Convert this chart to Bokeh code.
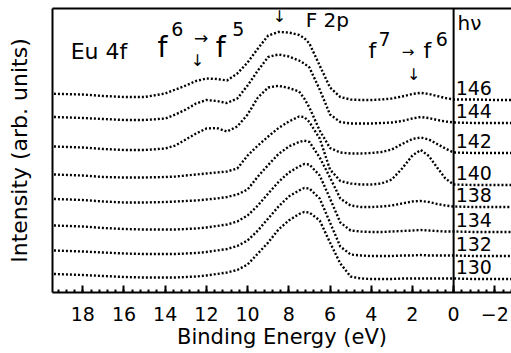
from bokeh.plotting import figure
from bokeh.models import Range1d, FixedTicker, LinearAxis, Span, Label
from bokeh.embed import file_html
from bokeh.resources import INLINE

# Binding energy grid (eV)
energy = [19.4, 18, 17, 16, 15, 14, 13.5, 13, 12.5, 12, 11.5, 11, 10.5, 10, 9.5, 9,
          8.5, 8, 7.5, 7.25, 7, 6.5, 6, 5.5, 5, 4.5, 4, 3.5, 3, 2.5, 2, 1.6, 1.2,
          0.8, 0.4, 0, -1, -2, -2.9]

# Intensity (arb. units, offset spectra) for each photon energy
i146 = [198.7, 198, 196.5, 195.5, 195.5, 199, 203, 207, 211.5, 214, 213.5, 212, 219, 230, 244, 257,
        260.5, 260, 257.5, 254.5, 249, 227, 205, 195.5, 193, 192.5, 192.5, 193, 194, 196, 198.5, 199.7, 198.5,
        196.5, 194.5, 193, 193, 192.5, 192.5]
i144 = [175.5, 174.5, 173.5, 172.5, 172.5, 174, 178, 183, 189, 192.5, 191.5, 189.5, 194, 207, 222, 235.5,
        238, 236, 232, 229, 225, 203, 178, 170.5, 169, 169, 169, 169.5, 170, 171.5, 174, 175.5, 174.5,
        172.5, 171, 170, 169.5, 169.5, 169.5]
i142 = [146, 145, 143.5, 142.5, 142.5, 144, 147, 153, 159, 164, 164.5, 161, 166, 178, 195, 205,
        206.7, 204.5, 201, 194, 185, 162, 144.5, 140, 139, 139, 139.5, 140.5, 143, 148.5, 153.5, 155, 153,
        148.5, 144, 140, 139.5, 139.5, 139.5]
i140 = [118, 117, 115.5, 115, 115, 115.5, 116, 117, 118, 119, 120, 121, 124, 137, 147, 156,
        164.5, 171, 176, 175.5, 170.5, 154, 123, 111.5, 109, 108, 108, 109, 113, 124, 137, 142.5, 136.5,
        125, 114, 108, 107.5, 107.5, 107.5]
i138 = [93.5, 92.5, 91, 90, 90, 90.5, 91, 91.5, 92, 93, 94, 95.5, 98, 103, 116, 127.5,
        138.5, 146, 150.5, 152, 150.5, 135, 115, 94, 87, 85.5, 85.5, 86, 87, 89, 91, 91.5, 90.5,
        88.5, 87, 86, 85.5, 85.5, 85.5]
i134 = [67, 66, 64.5, 63.5, 63, 63, 63, 63.5, 64, 65, 66.5, 68, 71, 77, 87, 99,
        110.5, 120, 126, 128.5, 128, 117, 94, 70, 62, 61, 60.5, 60.5, 61, 61.5, 62, 62.5, 62,
        61.5, 61, 61, 60.5, 60.5, 60.5]
i132 = [42, 41, 40, 39, 38.5, 38.5, 38.5, 39, 39.5, 40.5, 42, 43.5, 46.5, 52, 62, 74,
        86, 96, 102, 104.5, 104, 94, 70, 46, 38, 37, 36.5, 36.5, 36.5, 37, 37, 37.5, 37,
        37, 37, 37, 36.5, 36.5, 36.5]
i130 = [18.5, 17.5, 16.5, 15.5, 15, 15, 15, 15.5, 16, 17, 18.5, 20, 22.5, 28, 39, 50,
        63, 72, 78.5, 80.5, 80, 72, 50, 29, 16, 14, 13.5, 13.5, 13.5, 14, 14, 14, 14,
        14, 14, 14, 13.5, 13.5, 13.5]

photon_labels = ["146", "144", "142", "140", "138", "134", "132", "130"]
spectra = [i146, i144, i142, i140, i138, i134, i132, i130]

tick_values = [18, 16, 14, 12, 10, 8, 6, 4, 2, 0, -2]
tick_labels = ["18", "16", "14", "12", "10", "8", "6", "4", "2", "0", "\u22122"]
minor_values = [round(-2.8 + 0.4 * k, 1) for k in range(56)]

FONT = "DejaVu Sans"

p = figure(width=511, height=353, output_backend="svg", toolbar_location=None,
           x_range=Range1d(19.47, -2.81), y_range=Range1d(0, 284),
           min_border_left=52, min_border_right=0, min_border_top=8, min_border_bottom=61)
p.grid.visible = False
p.outline_line_color = None
p.background_fill_color = "white"
p.border_fill_color = "white"

# bottom axis
xa = p.below[0]
xa.ticker = FixedTicker(ticks=tick_values, minor_ticks=minor_values)
xa.major_label_overrides = {v: t for v, t in zip(tick_values, tick_labels)}
xa.major_tick_in = 7
xa.major_tick_out = 0
xa.minor_tick_in = 3
xa.minor_tick_out = 0
xa.major_tick_line_width = 2
xa.minor_tick_line_width = 2
xa.axis_line_width = 2
xa.major_label_text_font = FONT
xa.major_label_text_font_size = "19px"
xa.major_label_text_color = "black"
xa.major_label_standoff = 14
xa.axis_label = "Binding Energy (eV)"
xa.axis_label_text_font = FONT
xa.axis_label_text_font_size = "21px"
xa.axis_label_text_font_style = "normal"
xa.axis_label_text_color = "black"
xa.axis_label_standoff = 1

# left axis (spine + label only)
ya = p.left[0]
ya.ticker = FixedTicker(ticks=[])
ya.major_tick_in = 0
ya.major_tick_out = 0
ya.minor_tick_in = 0
ya.minor_tick_out = 0
ya.major_label_text_font_size = "0px"
ya.major_label_standoff = 0
ya.axis_line_width = 2
ya.axis_label = "Intensity (arb. units)"
ya.axis_label_text_font = FONT
ya.axis_label_text_font_size = "22px"
ya.axis_label_text_font_style = "normal"
ya.axis_label_text_color = "black"
ya.axis_label_standoff = 21

# top frame line
top = LinearAxis(ticker=FixedTicker(ticks=[]), major_tick_in=0, major_tick_out=0,
                 minor_tick_in=0, minor_tick_out=0, major_label_text_font_size="0px",
                 major_label_standoff=0, axis_line_width=2)
p.add_layout(top, "above")

# vertical line at 0 eV
p.add_layout(Span(location=0, dimension="height", line_color="black", line_width=2))

for lab, ys in zip(photon_labels, spectra):
    p.line(energy, ys, line_color="black", line_width=2.4, line_dash="2 2")
    p.add_layout(Label(x=-0.1, y=ys[-1] + 12.5, text=lab, text_font=FONT, text_font_size="19px",
                       text_align="left", text_baseline="alphabetic", text_color="black"))

def txt(x, y, s, size="20px", align="left"):
    p.add_layout(Label(x=x, y=y, text=s, text_font=FONT, text_font_size=size,
                       text_align=align, text_baseline="alphabetic", text_color="black"))

txt(18.59, 241.5, "Eu 4f", "22px")
txt(14.37, 245, "f", "28px")
txt(13.7, 264, "6", "19px")
txt(12.26, 255, "\u2192", "17px", "center")
txt(11.55, 245, "f", "28px")
txt(10.74, 264, "5", "19px")
txt(12.43, 232, "\u2193", "16px", "center")
txt(8.45, 276, "\u2193", "16px", "center")
txt(7.18, 272.5, "F 2p")
txt(4.13, 242, "f", "22px")
txt(3.64, 254, "7", "19px")
txt(2.21, 241, "\u2192", "15px", "center")
txt(1.46, 242, "f", "22px")
txt(0.87, 254, "6", "19px")
txt(1.94, 218, "\u2193", "16px", "center")
txt(-0.19, 270, "h\u03bd")

open("out.html", "w").write(file_html(p, INLINE))
